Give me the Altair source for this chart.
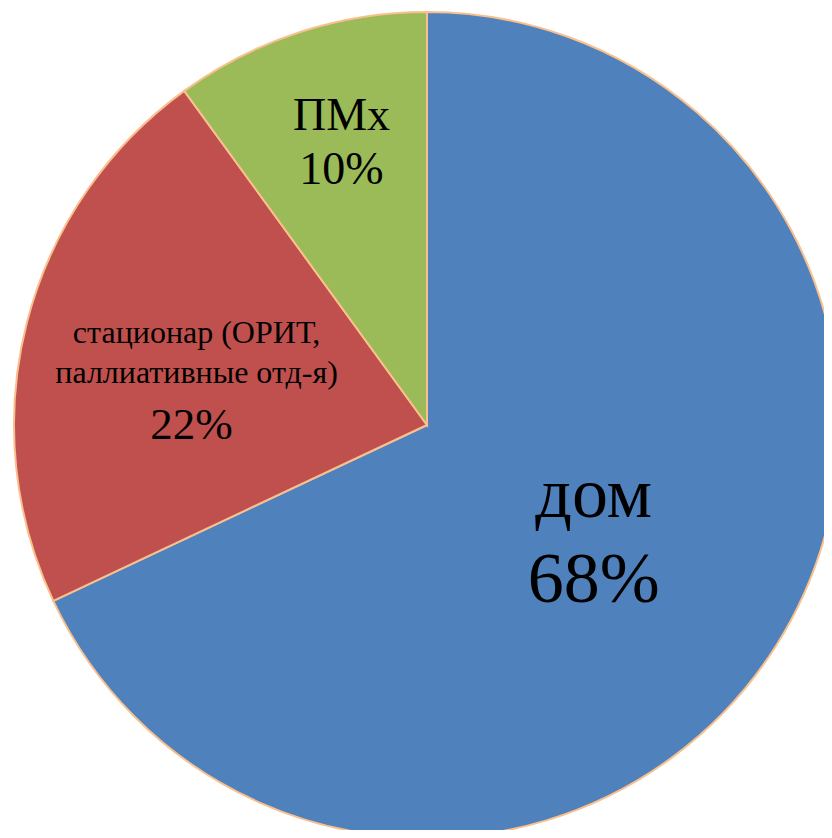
import altair as alt
import pandas as pd
import math

categories = ["дом", "стационар (ОРИТ, паллиативные отд-я)", "ПМх"]
values = [68, 22, 10]
colors = ["#4F81BD", "#C0504D", "#9BBB59"]

df = pd.DataFrame({"cat": categories, "value": values})

CX, CY, R = 419, 417, 413
FONT = "Liberation Serif"

arc = alt.Chart(df).transform_window(idx="row_number()").mark_arc(
    radius=R, stroke="#F9C08E", strokeWidth=2
).encode(
    theta=alt.Theta("value:Q", stack=True),
    order=alt.Order("idx:Q"),
    color=alt.Color("cat:N", scale=alt.Scale(domain=categories, range=colors), legend=None),
    x=alt.value(CX),
    y=alt.value(CY),
)


def base():
    return (
        alt.Chart(df)
        .transform_joinaggregate(total="sum(value)")
        .transform_window(cum="sum(value)", frame=[None, 0])
        .transform_calculate(
            mid="(datum.cum - datum.value / 2) / datum.total",
            pct="format(datum.value, 'd') + '%'",
            name="replace(datum.cat, ', ', ',\\n')",
            full="datum.cat + '\\n' + format(datum.value, 'd') + '%'",
        )
    )


theta = alt.Theta("mid:Q", scale=alt.Scale(domain=[0, 1], range=[0, 2 * math.pi]))


def label(cat, field, radius, size, line_h, dx, dy):
    return (
        base()
        .transform_filter(alt.datum.cat == cat)
        .mark_text(
            radius=radius, font=FONT, fontSize=size, lineHeight=line_h,
            lineBreak="\n", color="black", align="center", baseline="middle",
            dx=dx, dy=dy,
        )
        .encode(theta=theta, text=f"{field}:N", x=alt.value(CX), y=alt.value(CY))
    )


layers = [
    arc,
    label(categories[0], "full", 201, 72, 85, -3, -38),
    label(categories[1], "name", 240, 32, 40, 2, -32),
    label(categories[1], "pct", 240, 45, 50, -3, 60),
    label(categories[2], "full", 296, 46, 54, 6, -27),
]

chart = (
    alt.layer(*layers)
    .resolve_scale(theta="independent")
    .properties(width=816, height=822, padding=0, autosize=alt.AutoSizeParams(type="none"))
    .configure_view(stroke=None)
)

chart.save("out.html", embed_options={"renderer": "svg", "actions": False})
